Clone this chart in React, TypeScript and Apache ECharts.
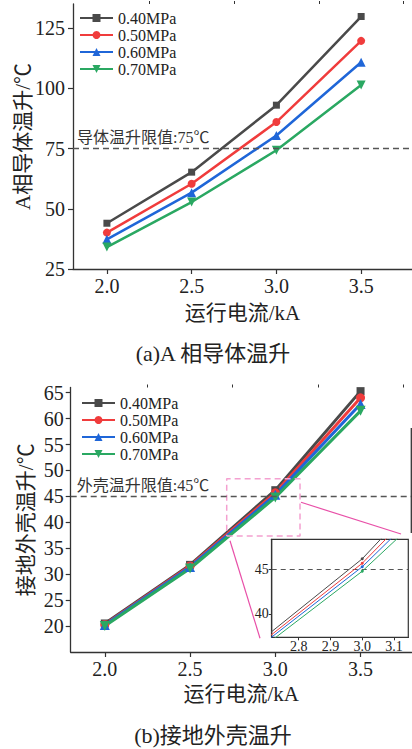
import React, { useEffect, useRef } from 'react';
import * as echarts from 'echarts';

const currents = [2.0, 2.5, 3.0, 3.5];
const pressures = ['0.40MPa', '0.50MPa', '0.60MPa', '0.70MPa'];
const conductorRise040 = [44.0, 65.2, 93.0, 129.8];
const conductorRise050 = [40.1, 60.4, 86.0, 119.7];
const conductorRise060 = [37.3, 56.7, 80.4, 110.8];
const conductorRise070 = [34.1, 52.8, 74.3, 101.4];
const shellRise040 = [20.5, 31.8, 46.2, 65.3];
const shellRise050 = [20.3, 31.6, 45.7, 64.0];
const shellRise060 = [20.2, 31.4, 45.3, 62.8];
const shellRise070 = [20.0, 31.1, 44.8, 61.5];
const xTicks = [2.0, 2.5, 3.0, 3.5];
const xMinorTicks = [2.25, 2.75, 3.25, 3.75];
const conductorTicks = [25, 50, 75, 100, 125];
const conductorMinorTicks = [37.5, 62.5, 87.5, 112.5];
const shellTicks = [20, 25, 30, 35, 40, 45, 50, 55, 60, 65];
const insetXTicks = [2.8, 2.9, 3.0, 3.1];
const insetYTicks = [40, 45];
const conductorLimit = 75;
const shellLimit = 45;
const insetRangeX = [2.715, 3.145];
const insetRangeY = [37.35, 48.4];

const conductorSeries = [conductorRise040, conductorRise050, conductorRise060, conductorRise070];
const shellSeries = [shellRise040, shellRise050, shellRise060, shellRise070];
const colors = ['#4a4a4a', '#f03c3c', '#1f66d8', '#2aa862'];
const symbols = ['rect', 'circle', 'triangle', 'triangle'];
const symbolRotates = [0, 0, 0, 180];
const symbolSizes = [7, 8, 9, 9];

const SERIF = "'Liberation Serif', 'Noto Sans CJK SC', serif";
const TXT = '#222';

function mainX(gridIndex: number) {
  return [
    {
      type: 'value', gridIndex, min: 1.8, max: 3.8,
      axisLine: { show: true, onZero: false, lineStyle: { color: '#333', width: 1.3 } },
      axisTick: { show: true, customValues: xTicks, length: 5, lineStyle: { color: '#333', width: 1.2 } },
      axisLabel: { show: true, customValues: xTicks, formatter: (v: number) => v.toFixed(1), fontFamily: SERIF, fontSize: 20, color: TXT, margin: 7 },
      splitLine: { show: false },
      name: '运行电流/kA', nameLocation: 'middle', nameGap: gridIndex === 0 ? 33 : 31,
      nameMoveOverlap: false,
      nameTextStyle: { fontFamily: SERIF, fontSize: 21, color: TXT },
    },
    {
      type: 'value', gridIndex, min: 1.8, max: 3.8,
      axisLine: { show: false },
      axisTick: { show: true, customValues: xMinorTicks, length: 3, lineStyle: { color: '#333', width: 1 } },
      axisLabel: { show: false },
      splitLine: { show: false },
    },
  ];
}

export default function App() {
  const ref = useRef<HTMLDivElement>(null);
  useEffect(() => {
    if (!ref.current) return;
    const chart = echarts.init(ref.current, undefined, { renderer: 'svg' });

    const series: any[] = [];
    pressures.forEach((name, i) => {
      series.push({
        type: 'line', name, xAxisIndex: 0, yAxisIndex: 0,
        data: currents.map((x, j) => [x, conductorSeries[i][j]]),
        symbol: symbols[i], symbolRotate: symbolRotates[i], symbolSize: symbolSizes[i],
        lineStyle: { color: colors[i], width: 2.5 }, itemStyle: { color: colors[i] },
        z: 3,
        markLine: i === 0 ? {
          silent: true, symbol: 'none', animation: false,
          lineStyle: { type: [6, 4], color: '#555', width: 1.3 },
          label: { show: true, position: 'insideStartTop', formatter: '导体温升限值:75℃', fontFamily: SERIF, fontSize: 16, color: '#333', distance: [4, 3] },
          data: [{ yAxis: conductorLimit }],
        } : undefined,
      });
    });
    pressures.forEach((name, i) => {
      series.push({
        type: 'line', name, xAxisIndex: 2, yAxisIndex: 2,
        data: currents.map((x, j) => [x, shellSeries[i][j]]),
        symbol: symbols[i], symbolRotate: symbolRotates[i], symbolSize: symbolSizes[i] + 1,
        lineStyle: { color: colors[i], width: 3 }, itemStyle: { color: colors[i] },
        z: 3,
        markLine: i === 0 ? {
          silent: true, symbol: 'none', animation: false,
          lineStyle: { type: [6, 4], color: '#555', width: 1.3 },
          label: { show: true, position: 'insideStartTop', formatter: '外壳温升限值:45℃', fontFamily: SERIF, fontSize: 16, color: '#333', distance: [6, 3] },
          data: [{ yAxis: shellLimit }],
        } : undefined,
      });
    });
    pressures.forEach((name, i) => {
      series.push({
        type: 'line', name: name + ' inset', xAxisIndex: 4, yAxisIndex: 4,
        data: currents.map((x, j) => [x, shellSeries[i][j]]),
        symbol: 'circle', symbolSize: 3,
        lineStyle: { color: colors[i], width: 1 }, itemStyle: { color: colors[i] },
        clip: true, z: 5,
        markLine: i === 0 ? {
          silent: true, symbol: 'none', animation: false,
          lineStyle: { type: [5, 4], color: '#555', width: 1.2 },
          label: { show: false },
          data: [{ yAxis: shellLimit }],
        } : undefined,
      });
    });
    series.push({
      type: 'line', name: 'zoom box', xAxisIndex: 2, yAxisIndex: 2,
      data: [
        [insetRangeX[0], insetRangeY[0]], [insetRangeX[1], insetRangeY[0]],
        [insetRangeX[1], insetRangeY[1]], [insetRangeX[0], insetRangeY[1]],
        [insetRangeX[0], insetRangeY[0]],
      ],
      symbol: 'none', silent: true, z: 4,
      lineStyle: { type: [6, 4], color: '#f4a0d0', width: 1.5 },
    });

    const legendBase = {
      orient: 'vertical', itemWidth: 33, itemHeight: 10, itemGap: 1, padding: 0,
      textStyle: { fontFamily: SERIF, fontSize: 16, color: TXT },
      data: pressures,
      selectedMode: false,
    };

    const option: any = {
      animation: false,
      backgroundColor: '#fff',
      grid: [
        { left: 73, top: 4, width: 341.5, height: 265, containLabel: false },
        { left: 70.7, top: 387.5, width: 341, height: 264.5, containLabel: false },
        { left: 271.7, top: 539.3, width: 136.6, height: 98, show: true, borderColor: '#333', borderWidth: 1.2, backgroundColor: '#fff', z: 4 },
      ],
      xAxis: [
        ...mainX(0),
        ...mainX(1),
        {
          type: 'value', gridIndex: 2, min: insetRangeX[0], max: insetRangeX[1], z: 5,
          axisLine: { show: true, onZero: false, lineStyle: { color: '#333', width: 1.2 } },
          axisTick: { show: true, customValues: insetXTicks, length: 3, lineStyle: { color: '#333' } },
          axisLabel: { show: true, customValues: insetXTicks, formatter: (v: number) => v.toFixed(1), fontFamily: SERIF, fontSize: 14, color: TXT, margin: 2 },
          splitLine: { show: false },
        },
      ],
      yAxis: [
        {
          type: 'value', gridIndex: 0, min: 25, max: 135,
          axisLine: { show: true, onZero: false, lineStyle: { color: '#333', width: 1.3 } },
          axisTick: { show: true, customValues: conductorTicks, length: 5, lineStyle: { color: '#333', width: 1.2 } },
          axisLabel: { show: true, customValues: conductorTicks, fontFamily: SERIF, fontSize: 20, color: TXT, margin: 8 },
          splitLine: { show: false },
          name: 'A相导体温升/℃', nameLocation: 'middle', nameRotate: 90, nameGap: 40,
          nameMoveOverlap: false,
          nameTextStyle: { fontFamily: SERIF, fontSize: 21, color: TXT },
        },
        {
          type: 'value', gridIndex: 0, min: 25, max: 135,
          axisLine: { show: false },
          axisTick: { show: true, customValues: conductorMinorTicks, length: 3, lineStyle: { color: '#333', width: 1 } },
          axisLabel: { show: false },
          splitLine: { show: false },
        },
        {
          type: 'value', gridIndex: 1, min: 15, max: 66,
          axisLine: { show: true, onZero: false, lineStyle: { color: '#333', width: 1.3 } },
          axisTick: { show: true, customValues: shellTicks, length: 5, lineStyle: { color: '#333', width: 1.2 } },
          axisLabel: { show: true, customValues: shellTicks, fontFamily: SERIF, fontSize: 20, color: TXT, margin: 7 },
          splitLine: { show: false },
          name: '接地外壳温升/℃', nameLocation: 'middle', nameRotate: 90, nameGap: 34,
          nameMoveOverlap: false,
          nameTextStyle: { fontFamily: SERIF, fontSize: 21, color: TXT },
        },
        {
          type: 'value', gridIndex: 1, min: 15, max: 66,
          axisLine: { show: false }, axisTick: { show: false }, axisLabel: { show: false }, splitLine: { show: false },
        },
        {
          type: 'value', gridIndex: 2, min: insetRangeY[0], max: insetRangeY[1], z: 5,
          axisLine: { show: true, onZero: false, lineStyle: { color: '#333', width: 1.2 } },
          axisTick: { show: true, customValues: insetYTicks, length: 3, lineStyle: { color: '#333' } },
          axisLabel: { show: true, customValues: insetYTicks, fontFamily: SERIF, fontSize: 14, color: TXT, margin: 3 },
          splitLine: { show: false },
        },
      ],
      legend: [
        { ...legendBase, left: 79, top: 10 },
        { ...legendBase, left: 81, top: 395 },
      ],
      graphic: [
        { type: 'text', x: 213, y: 353, style: { text: '(a)A 相导体温升', fontFamily: SERIF, fontSize: 22, fill: TXT, align: 'center', verticalAlign: 'middle' } },
        { type: 'text', x: 213, y: 735, style: { text: '(b)接地外壳温升', fontFamily: SERIF, fontSize: 22, fill: TXT, align: 'center', verticalAlign: 'middle' } },
        { type: 'line', shape: { x1: 301, y1: 502.3, x2: 401, y2: 534 }, style: { stroke: '#e850a8', lineWidth: 1.2 }, z: 10 },
        { type: 'line', shape: { x1: 230, y1: 540.7, x2: 260, y2: 638.3 }, style: { stroke: '#e850a8', lineWidth: 1.2 }, z: 10 },
        { type: 'line', shape: { x1: 411.3, y1: 428, x2: 411.3, y2: 533 }, style: { stroke: '#333', lineWidth: 1.3 }, z: 10 },
      ],
      series,
    };
    chart.setOption(option);
    return () => chart.dispose();
  }, []);
  return (
    <div
      ref={ref}
      style={{ position: 'fixed', left: 0, top: 0, width: 412, height: 749, background: '#fff' }}
    />
  );
}
